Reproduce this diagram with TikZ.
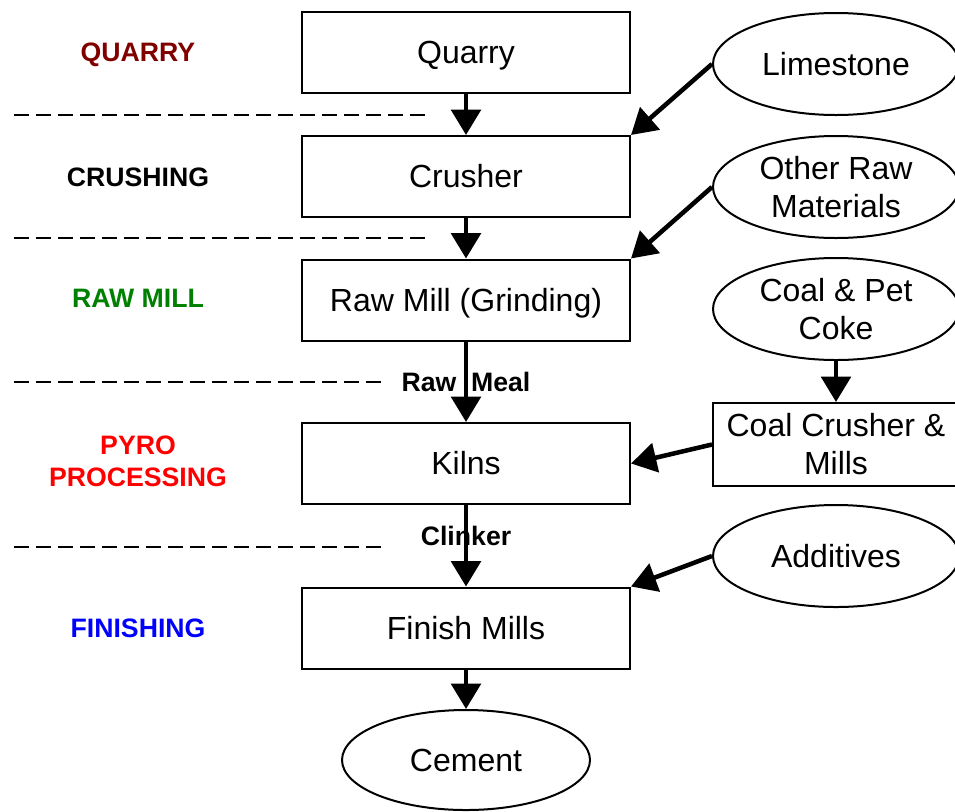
\documentclass[tikz,border=0pt]{standalone}
\usepackage{fontspec}
\setmainfont{Liberation Sans}
\usetikzlibrary{shapes.geometric,arrows.meta}
\definecolor{qred}{RGB}{128,0,0}
\definecolor{rgreen}{RGB}{0,128,0}
\definecolor{pred}{RGB}{255,0,0}
\definecolor{fblue}{RGB}{0,0,255}
\tikzset{
  boxtext/.style={inner sep=0pt, align=center, font=\fontsize{24}{28.5}\selectfont},
  oneline/.style={text height=17.2pt, text depth=0pt},
  stagebox/.style={boxtext, oneline, draw=black, line width=1.5pt, rectangle, minimum width={328*0.75pt}, minimum height={81*0.75pt}},
  inbox/.style={boxtext, draw=black, line width=1.5pt, rectangle, minimum width={246*0.75pt}, minimum height={83*0.75pt}},
  inell/.style={boxtext, draw=black, line width=1.5pt, ellipse, minimum width={246*0.75pt}, minimum height={102*0.75pt}},
  stagelbl/.style={font=\bfseries\fontsize{20}{24}\selectfont, align=center, inner sep=0pt},
  flowlbl/.style={font=\bfseries\fontsize{20}{24}\selectfont, inner sep=0pt},
  arr/.style={line width=3.4pt, -{Triangle[length=19pt,width=22pt]}},
  sep/.style={line width=0.8pt, dash pattern=on 11pt off 5.5pt}
}
\begin{document}
\begin{tikzpicture}[x=0.75pt,y=-0.75pt]
\useasboundingbox (0,0) rectangle (955,811);
% separators
\draw[sep] (14,115) -- (427,115);
\draw[sep] (14,238) -- (427,238);
\draw[sep] (14,382) -- (386,382);
\draw[sep] (14,547) -- (386,547);
% stage labels
\node[stagelbl, text=qred, anchor=base] (lq) at (138,61.7) {QUARRY};
\node[stagelbl, text=black, anchor=base] (lc) at (138,186) {CRUSHING};
\node[stagelbl, text=rgreen, anchor=base] (lr) at (138,307) {RAW MILL};
\node[stagelbl, text=pred] (lp) at (138,461.8) {PYRO\\PROCESSING};
\node[stagelbl, text=fblue, anchor=base] (lf) at (138,637.5) {FINISHING};
% main boxes
\node[stagebox] (quarry) at (466,52.5) {Quarry};
\node[stagebox] (crusher) at (466,176.5) {Crusher};
\node[stagebox] (rawmill) at (466,300) {Raw Mill (Grinding)};
\node[stagebox] (kilns) at (466,463.5) {Kilns};
\node[stagebox] (finish) at (466,628) {Finish Mills};
\node[inell, oneline, minimum width={248*0.75pt}, minimum height={100*0.75pt}] (cement) at (466,760) {Cement};
% inputs
\node[inell, oneline] (lime) at (836,64) {Limestone};
\node[inell] (other) at (836,187) {Other Raw\\Materials};
\node[inell] (coal) at (836,309) {Coal \& Pet\\Coke};
\node[inbox] (coalmill) at (836,444.5) {Coal Crusher \&\\Mills};
\node[inell, oneline] (add) at (836,556) {Additives};
% flow labels
\node[flowlbl, anchor=base] (rawmeal) at (466,391) {Raw\hspace{11pt}Meal};
\node[flowlbl, anchor=base] (clinker) at (466,545) {Clinker};
% arrows
\draw[arr] (quarry) -- (crusher);
\draw[arr] (crusher) -- (rawmill);
\draw[arr] (rawmill) -- (kilns);
\draw[arr] (kilns) -- (finish);
\draw[arr] (finish) -- (cement);
\draw[arr] (lime.west) -- (crusher.north east);
\draw[arr] (other.west) -- (rawmill.north east);
\draw[arr] (coal) -- (coalmill);
\draw[arr] (coalmill.west) -- (kilns.east);
\draw[arr] (add.west) -- (finish.north east);
\end{tikzpicture}
\end{document}
